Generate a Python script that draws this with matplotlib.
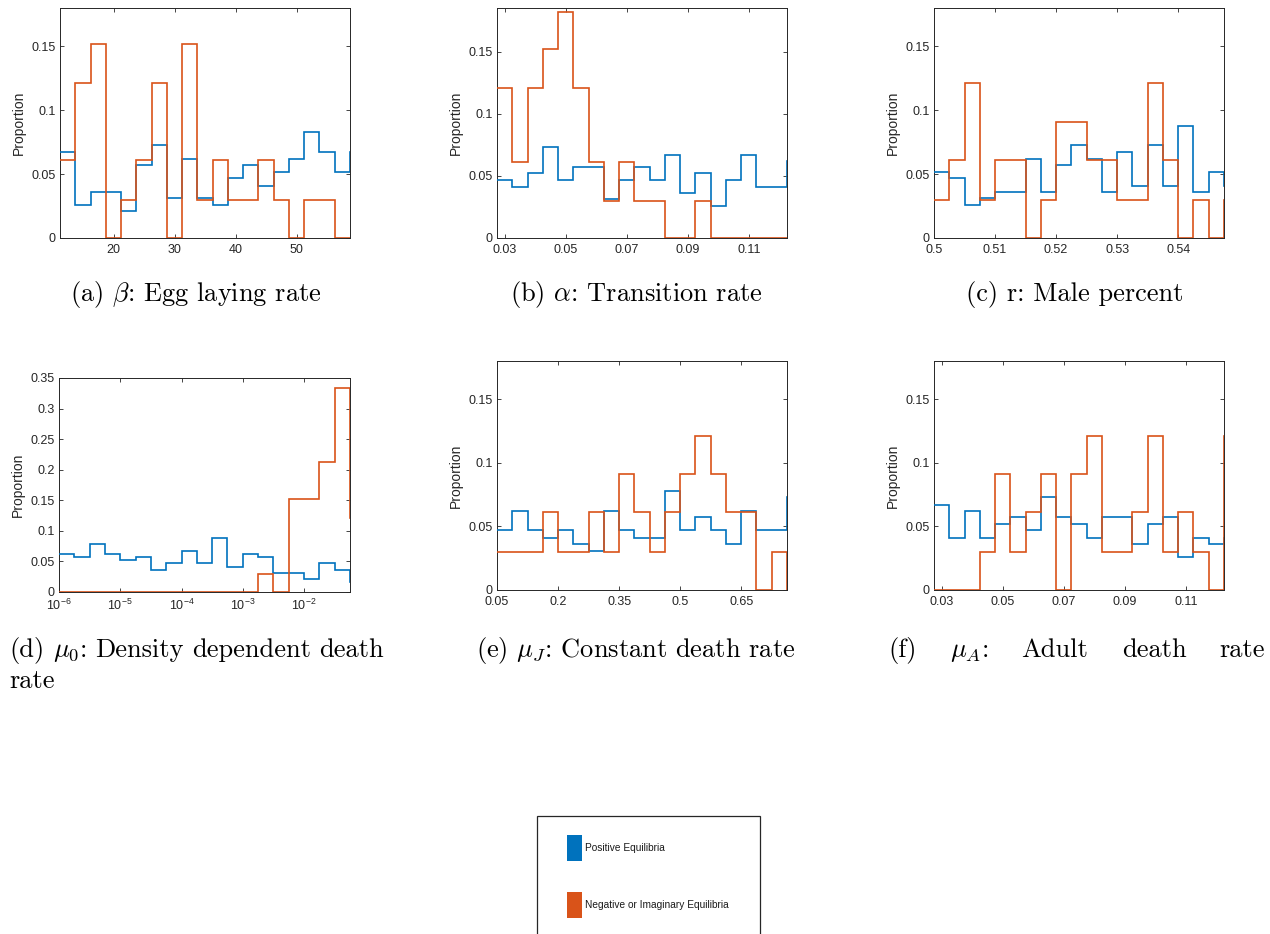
import numpy as np
import matplotlib
matplotlib.use("Agg")
import matplotlib.pyplot as plt
from matplotlib.patches import Rectangle
from matplotlib.ticker import FixedLocator, FormatStrFormatter, NullLocator

W, H = 1270, 934

# x range of the visible bins (19 bins each); every series has one more bin past the right limit
beta_range = (11.2, 58.7)
alpha_range = (0.0274, 0.1224)
r_range = (0.5, 0.5475)
mu0_log_range = (-6.0, -1.25)   # log10 of the limits
muJ_range = (0.05, 0.7625)
muA_range = (0.0274, 0.1224)

# proportions per bin (positive equilibria / negative or imaginary equilibria)
pos_beta = [0.067, 0.026, 0.036, 0.036, 0.021, 0.057, 0.073, 0.031, 0.062, 0.031,
            0.026, 0.047, 0.057, 0.041, 0.052, 0.062, 0.083, 0.067, 0.052, 0.067]
neg_beta = [0.061, 0.121, 0.152, 0.0, 0.030, 0.061, 0.121, 0.0, 0.152, 0.030,
            0.061, 0.030, 0.030, 0.061, 0.030, 0.0, 0.030, 0.030, 0.0, 0.0]

pos_alpha = [0.047, 0.041, 0.052, 0.073, 0.047, 0.057, 0.057, 0.031, 0.047, 0.057,
             0.047, 0.067, 0.036, 0.052, 0.026, 0.047, 0.067, 0.041, 0.041, 0.062]
neg_alpha = [0.121, 0.061, 0.121, 0.152, 0.182, 0.121, 0.061, 0.030, 0.061, 0.030,
             0.030, 0.0, 0.0, 0.030, 0.0, 0.0, 0.0, 0.0, 0.0, 0.0]

pos_r = [0.052, 0.047, 0.026, 0.031, 0.036, 0.036, 0.062, 0.036, 0.057, 0.073,
         0.062, 0.036, 0.067, 0.041, 0.073, 0.041, 0.088, 0.036, 0.052, 0.041]
neg_r = [0.030, 0.061, 0.121, 0.030, 0.061, 0.061, 0.0, 0.030, 0.091, 0.091,
         0.061, 0.061, 0.030, 0.030, 0.121, 0.061, 0.0, 0.030, 0.0, 0.030]

pos_mu0 = [0.062, 0.057, 0.078, 0.062, 0.052, 0.057, 0.036, 0.047, 0.067, 0.047,
           0.088, 0.041, 0.062, 0.057, 0.031, 0.031, 0.021, 0.047, 0.036, 0.016]
neg_mu0 = [0.0, 0.0, 0.0, 0.0, 0.0, 0.0, 0.0, 0.0, 0.0, 0.0,
           0.0, 0.0, 0.0, 0.030, 0.0, 0.152, 0.152, 0.212, 0.333, 0.121]

pos_muJ = [0.047, 0.062, 0.047, 0.041, 0.047, 0.036, 0.031, 0.062, 0.047, 0.041,
           0.041, 0.078, 0.047, 0.057, 0.047, 0.036, 0.062, 0.047, 0.047, 0.073]
neg_muJ = [0.030, 0.030, 0.030, 0.061, 0.030, 0.030, 0.061, 0.030, 0.091, 0.061,
           0.030, 0.061, 0.091, 0.121, 0.091, 0.061, 0.061, 0.0, 0.030, 0.0]

pos_muA = [0.067, 0.041, 0.062, 0.041, 0.052, 0.057, 0.047, 0.073, 0.057, 0.052,
           0.041, 0.057, 0.057, 0.036, 0.052, 0.057, 0.026, 0.041, 0.036, 0.041]
neg_muA = [0.0, 0.0, 0.0, 0.030, 0.091, 0.030, 0.061, 0.091, 0.0, 0.091,
           0.121, 0.030, 0.030, 0.061, 0.121, 0.030, 0.061, 0.030, 0.0, 0.121]

xticks_beta = [20, 30, 40, 50]
xticks_alpha = [0.03, 0.05, 0.07, 0.09, 0.11]
xticks_r = [0.5, 0.51, 0.52, 0.53, 0.54]
xticks_mu0 = [1e-6, 1e-5, 1e-4, 1e-3, 1e-2]
xticks_muJ = [0.05, 0.2, 0.35, 0.5, 0.65]
xticks_muA = [0.03, 0.05, 0.07, 0.09, 0.11]

yticks_std = [0, 0.05, 0.1, 0.15]
yticks_mu0 = [0, 0.05, 0.1, 0.15, 0.2, 0.25, 0.3, 0.35]

BLUE = "#0072BD"
RED = "#D95319"
AX = "#262626"

plt.rcParams["font.family"] = ["Liberation Sans", "DejaVu Sans"]
plt.rcParams["axes.unicode_minus"] = True

fig = plt.figure(figsize=(W / 100, H / 100), dpi=100)


def px_axes(l, t, r, b):
    return fig.add_axes([l / W, 1 - b / H, (r - l) / W, (b - t) / H])


def bin_edges(rng, n):
    step = (rng[1] - rng[0]) / (n - 1)
    return rng[0] + step * np.arange(n + 1)


# (values pos, values neg, range, log?, xticks, ylim, yticks, axes box in px)
panels = [
    (pos_beta, neg_beta, beta_range, False, xticks_beta, 0.18, yticks_std, (60, 8, 350, 238)),
    (pos_alpha, neg_alpha, alpha_range, False, xticks_alpha, 0.185, yticks_std, (497, 8, 787, 238)),
    (pos_r, neg_r, r_range, False, xticks_r, 0.18, yticks_std, (934, 8, 1224, 238)),
    (pos_mu0, neg_mu0, mu0_log_range, True, xticks_mu0, 0.35, yticks_mu0, (59, 378, 350, 592)),
    (pos_muJ, neg_muJ, muJ_range, False, xticks_muJ, 0.18, yticks_std, (497, 361, 787, 590)),
    (pos_muA, neg_muA, muA_range, False, xticks_muA, 0.18, yticks_std, (934, 361, 1224, 590)),
]

for pos, neg, rng, logx, xt, ytop, yt, box in panels:
    ax = px_axes(*box)
    edges = bin_edges(rng, len(pos))
    if logx:
        ax.set_xscale("log")
        edges = 10.0 ** edges
        ax.set_xlim(10.0 ** rng[0], 10.0 ** rng[1])
    else:
        ax.set_xlim(*rng)
    ax.stairs(pos, edges, baseline=None, color=BLUE, lw=1.2, zorder=3)
    ax.stairs(neg, edges, baseline=None, color=RED, lw=1.2, zorder=3)
    ax.set_ylim(0, ytop)
    ax.xaxis.set_major_locator(FixedLocator(xt))
    ax.xaxis.set_minor_locator(NullLocator())
    if not logx:
        ax.xaxis.set_major_formatter(FormatStrFormatter("%g"))
    ax.yaxis.set_major_locator(FixedLocator(yt))
    ax.yaxis.set_major_formatter(FormatStrFormatter("%g"))
    ax.tick_params(direction="in", top=True, right=True, length=3, width=0.6,
                   colors=AX, labelsize=9, pad=3)
    ax.tick_params(axis="x", pad=4)
    for s in ax.spines.values():
        s.set_color(AX)
        s.set_linewidth(0.7)
    ax.set_ylabel("Proportion", fontsize=10, color=AX, labelpad=4)

# sub-captions (LaTeX style)
cap_kw = dict(fontfamily="cmr10", math_fontfamily="cm", fontsize=19,
              va="baseline", color="black")


def caption(x, y, s, ha="center"):
    return fig.text(x / W, 1 - y / H, s, ha=ha, **cap_kw)


def justified(words, x0, x1, y):
    texts = [caption(0, y, w, ha="left") for w in words]
    rend = fig.canvas.get_renderer()
    widths = [t.get_window_extent(rend).width for t in texts]
    gap = (x1 - x0 - sum(widths)) / (len(words) - 1)
    x = x0
    for t, w in zip(texts, widths):
        t.set_x(x / W)
        x += w + gap


caption(196, 301, r"(a) $\beta$: Egg laying rate")
caption(636, 301, r"(b) $\alpha$: Transition rate")
caption(1075, 301, r"(c) r: Male percent")
justified(["(d)", r"$\mu_0$:", "Density", "dependent", "death"], 9, 384, 657)
caption(9, 688, "rate", ha="left")
caption(636, 657, r"(e) $\mu_J$: Constant death rate")
justified(["(f)", r"$\mu_A$:", "Adult", "death", "rate"], 888, 1265, 657)

# legend box (runs off the bottom of the page)
fig.patches.append(Rectangle((537 / W, 1 - 980 / H), 223 / W, (980 - 816) / H,
                             transform=fig.transFigure, fill=False, ec=AX, lw=0.9))
for yc, col, lab in [(848, BLUE, "Positive Equilibria"),
                     (905, RED, "Negative or Imaginary Equilibria")]:
    fig.patches.append(Rectangle((567 / W, 1 - (yc + 13) / H), 15 / W, 26 / H,
                                 transform=fig.transFigure, fc=col, ec="none"))
    fig.text(585 / W, 1 - yc / H, lab, fontsize=7.3, va="center", ha="left", color="#1a1a1a")

fig.savefig("out.png", dpi=100, facecolor="white")
